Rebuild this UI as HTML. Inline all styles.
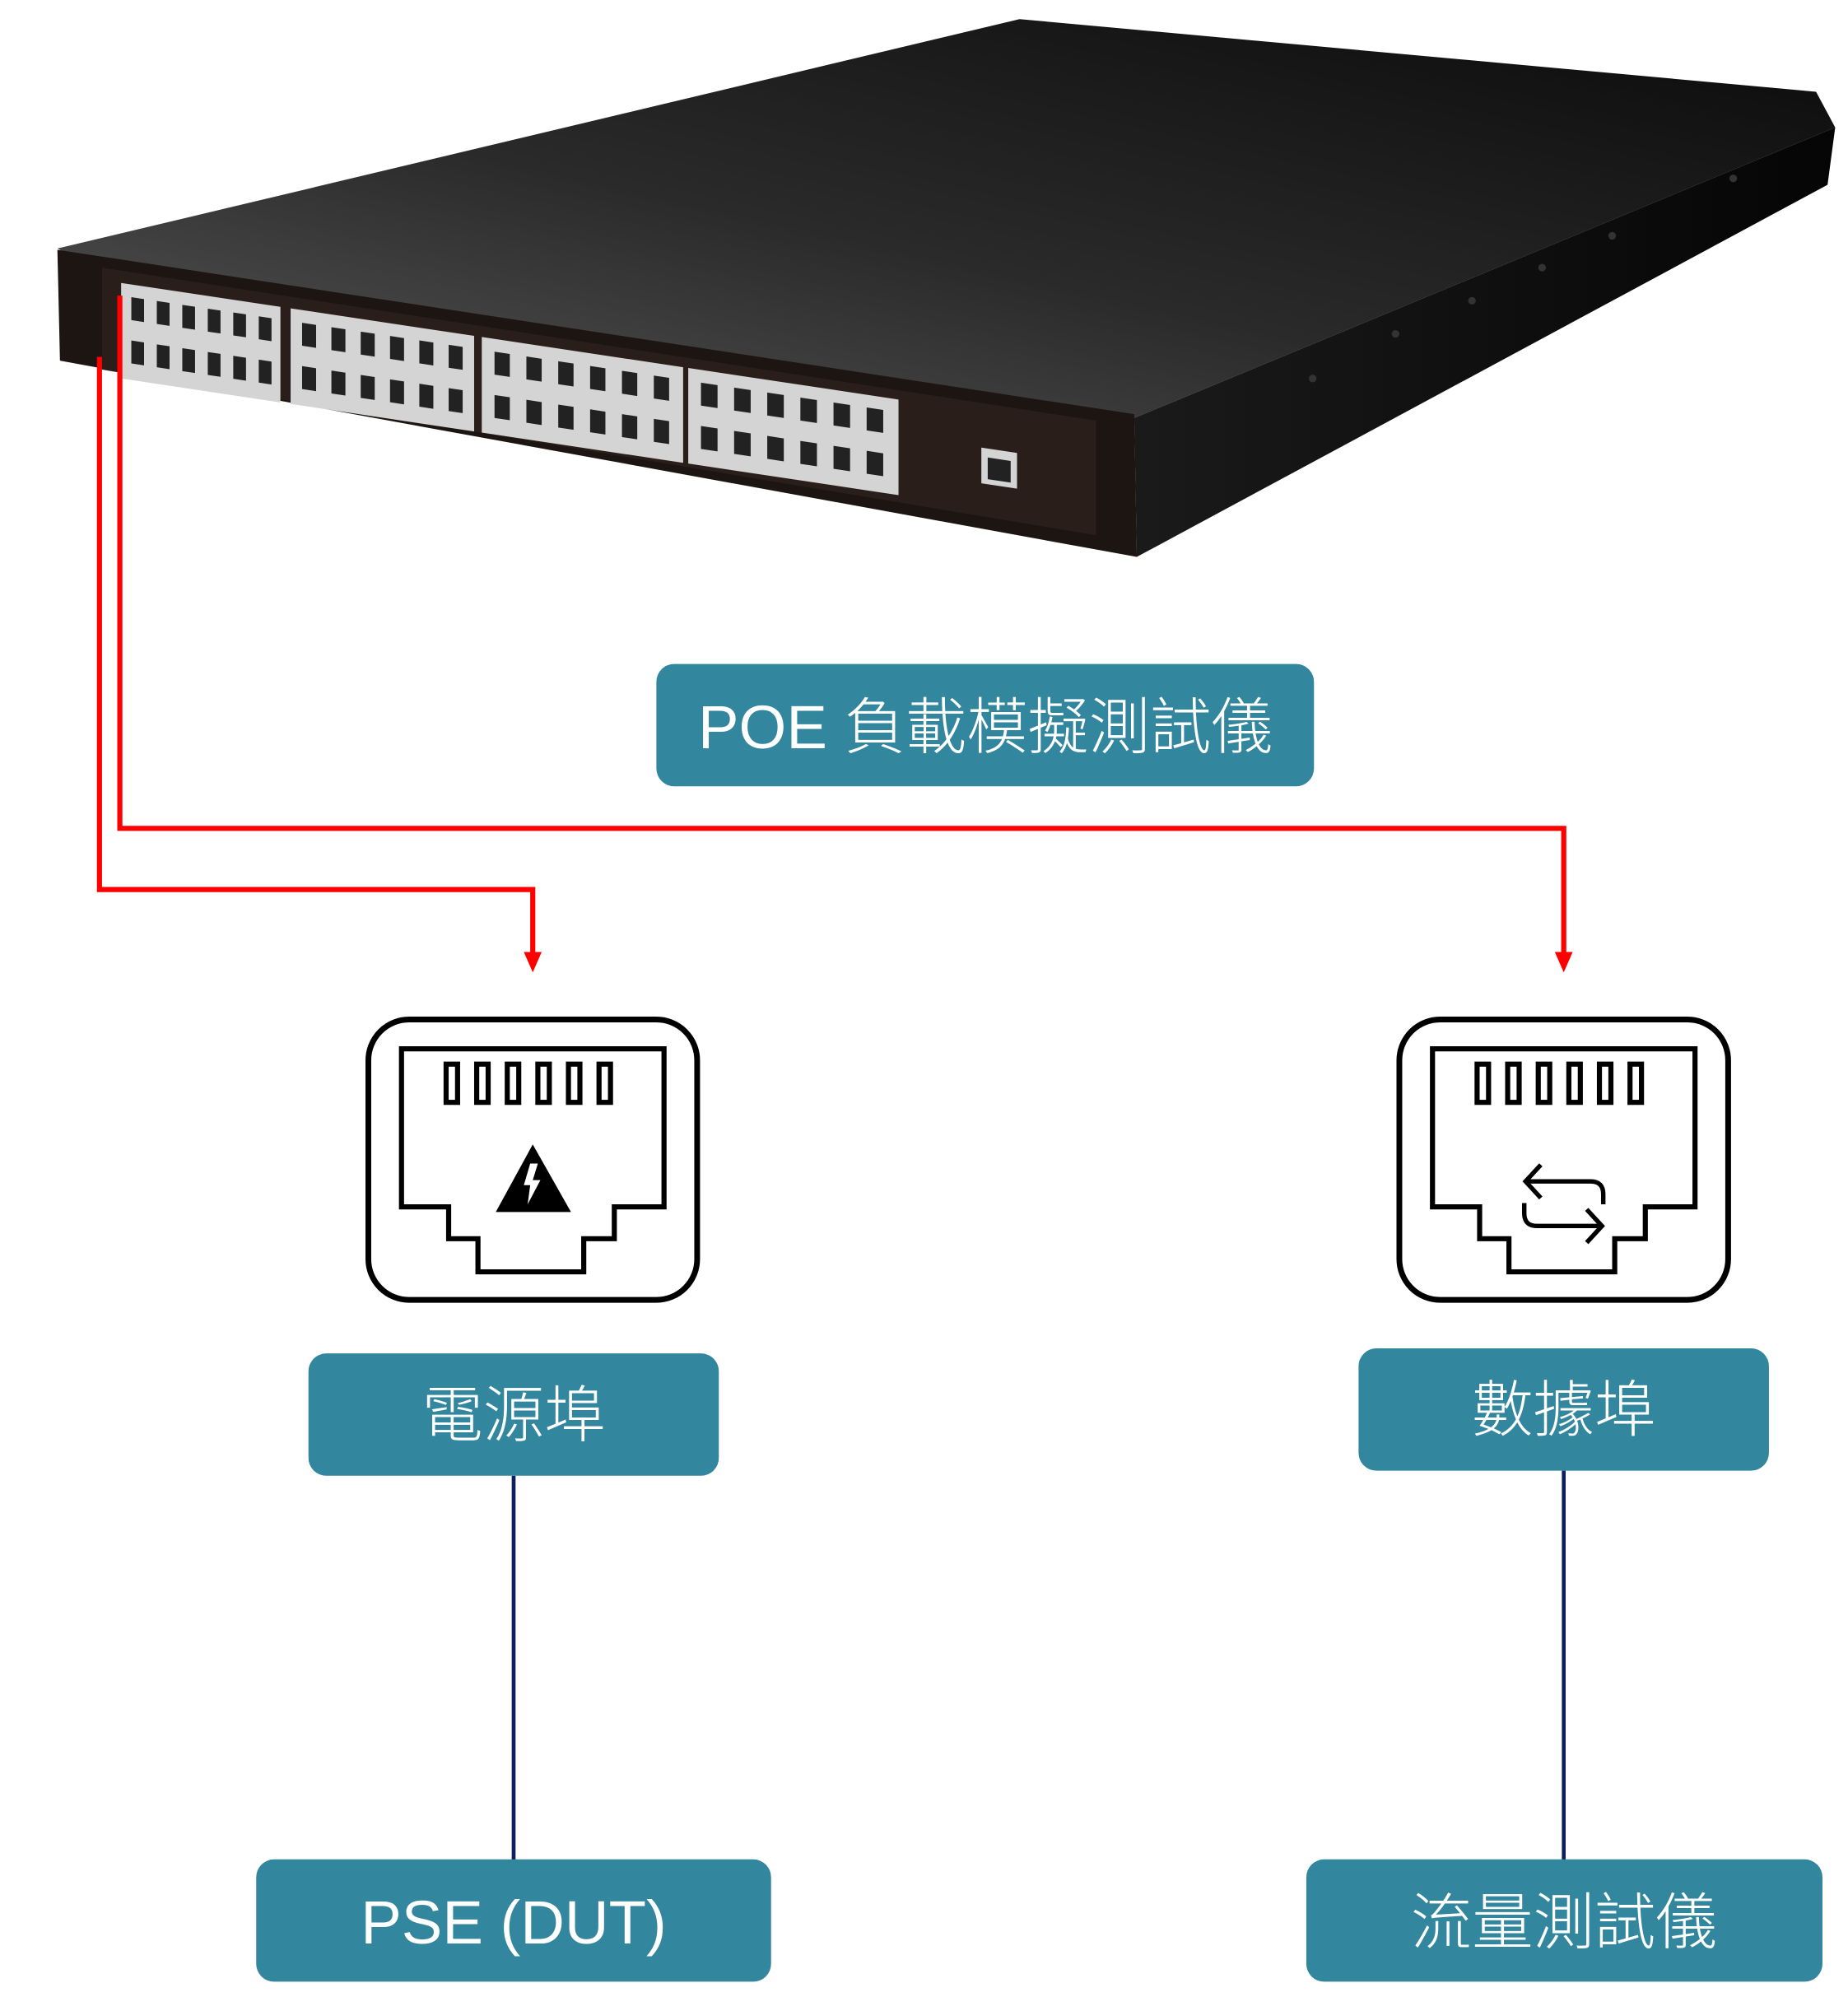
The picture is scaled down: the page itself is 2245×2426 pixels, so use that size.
<!DOCTYPE html>
<html><head><meta charset="utf-8"><style>
html,body{margin:0;padding:0;background:#fff;}
svg{display:block;}
text{font-family:"Liberation Sans","Noto Sans CJK TC",sans-serif;fill:#fff;font-weight:300;}
</style></head><body>
<svg width="2245" height="2426" viewBox="0 0 1450 1567" xmlns="http://www.w3.org/2000/svg">
<defs>
<linearGradient id="top" x1="0" y1="1" x2="1" y2="0">
<stop offset="0" stop-color="#5a5a5a"/><stop offset="0.45" stop-color="#2a2a2a"/><stop offset="1" stop-color="#0a0a0a"/>
</linearGradient>
<linearGradient id="side" x1="0" y1="0" x2="1" y2="0">
<stop offset="0" stop-color="#1a1a1a"/><stop offset="1" stop-color="#050505"/>
</linearGradient>
</defs>
<!-- switch -->
<polygon points="45,195 800,15 1425,72 1440,100 890,328 60,203" fill="url(#top)"/>
<polygon points="890,328 1440,100 1434,145 892,437" fill="url(#side)"/>
<polygon points="45,196 890,325 892,437 47,283" fill="#1c1512"/>
<polygon points="80,210 860,330 860,420 80,290" fill="#2a1e1a"/>
<g fill="#333">
<circle cx="1030" cy="297" r="3"/><circle cx="1095" cy="262" r="3"/><circle cx="1155" cy="236" r="3"/><circle cx="1210" cy="210" r="3"/><circle cx="1265" cy="185" r="3"/><circle cx="1360" cy="140" r="3"/>
</g>
<g transform="matrix(1,0.15,0,1,0,-14.25)">
<g fill="#d4d4d4">
<rect x="95" y="222" width="125" height="75"/>
<rect x="228" y="222" width="144" height="75"/>
<rect x="378" y="222" width="158" height="75"/>
<rect x="540" y="222" width="165" height="75"/>
<rect x="770" y="250" width="28" height="28"/>
</g>
<g fill="#222">
<rect x="103" y="232" width="10" height="18"/><rect x="123" y="232" width="10" height="18"/><rect x="143" y="232" width="10" height="18"/><rect x="163" y="232" width="10" height="18"/><rect x="183" y="232" width="10" height="18"/><rect x="203" y="232" width="10" height="18"/>
<rect x="103" y="266" width="10" height="18"/><rect x="123" y="266" width="10" height="18"/><rect x="143" y="266" width="10" height="18"/><rect x="163" y="266" width="10" height="18"/><rect x="183" y="266" width="10" height="18"/><rect x="203" y="266" width="10" height="18"/>
<rect x="237" y="232" width="11" height="18"/><rect x="260" y="232" width="11" height="18"/><rect x="283" y="232" width="11" height="18"/><rect x="306" y="232" width="11" height="18"/><rect x="329" y="232" width="11" height="18"/><rect x="352" y="232" width="11" height="18"/>
<rect x="237" y="266" width="11" height="18"/><rect x="260" y="266" width="11" height="18"/><rect x="283" y="266" width="11" height="18"/><rect x="306" y="266" width="11" height="18"/><rect x="329" y="266" width="11" height="18"/><rect x="352" y="266" width="11" height="18"/>
<rect x="388" y="232" width="12" height="18"/><rect x="413" y="232" width="12" height="18"/><rect x="438" y="232" width="12" height="18"/><rect x="463" y="232" width="12" height="18"/><rect x="488" y="232" width="12" height="18"/><rect x="513" y="232" width="12" height="18"/>
<rect x="388" y="266" width="12" height="18"/><rect x="413" y="266" width="12" height="18"/><rect x="438" y="266" width="12" height="18"/><rect x="463" y="266" width="12" height="18"/><rect x="488" y="266" width="12" height="18"/><rect x="513" y="266" width="12" height="18"/>
<rect x="550" y="232" width="13" height="18"/><rect x="576" y="232" width="13" height="18"/><rect x="602" y="232" width="13" height="18"/><rect x="628" y="232" width="13" height="18"/><rect x="654" y="232" width="13" height="18"/><rect x="680" y="232" width="13" height="18"/>
<rect x="550" y="266" width="13" height="18"/><rect x="576" y="266" width="13" height="18"/><rect x="602" y="266" width="13" height="18"/><rect x="628" y="266" width="13" height="18"/><rect x="654" y="266" width="13" height="18"/><rect x="680" y="266" width="13" height="18"/>
<rect x="775" y="257" width="18" height="17"/>
</g>
</g>
<!-- red connectors -->
<g stroke="#ff0000" stroke-width="4" fill="none">
<polyline points="78,280 78,698 418,698 418,750"/>
<polyline points="94,232 94,650 1227,650 1227,750"/>
</g>
<polygon points="411,747 425,747 418,763" fill="#ff0000"/>
<polygon points="1220,747 1234,747 1227,763" fill="#ff0000"/>
<!-- POE box -->
<rect x="515" y="521" width="516" height="96" rx="14" fill="#32869e"/>
<text x="773" y="587" font-size="48" text-anchor="middle">POE 負載模擬測試儀</text>
<!-- port icons -->
<g fill="none" stroke="#000" stroke-width="4.5">
<rect x="289" y="800" width="258" height="220" rx="32"/>
<path d="M315,823 H521 V947 H482 V972 H458 V998 H375 V972 H352 V947 H315 Z" stroke-width="4"/>
<g stroke-width="4">
<rect x="350" y="835" width="9" height="30"/><rect x="374" y="835" width="9" height="30"/><rect x="398" y="835" width="9" height="30"/><rect x="422" y="835" width="9" height="30"/><rect x="446" y="835" width="9" height="30"/><rect x="470" y="835" width="9" height="30"/>
</g>
</g>
<polygon points="418,898 389,951 448,951" fill="#000"/>
<polygon points="416,913 422,913 418,926 424,926 414,945 416,930 411,930" fill="#fff"/>
<g fill="none" stroke="#000" stroke-width="4.5">
<rect x="1098" y="800" width="258" height="220" rx="32"/>
<path d="M1124,823 H1330 V947 H1291 V972 H1267 V998 H1184 V972 H1161 V947 H1124 Z" stroke-width="4"/>
<g stroke-width="4">
<rect x="1159" y="835" width="9" height="30"/><rect x="1183" y="835" width="9" height="30"/><rect x="1207" y="835" width="9" height="30"/><rect x="1231" y="835" width="9" height="30"/><rect x="1255" y="835" width="9" height="30"/><rect x="1279" y="835" width="9" height="30"/>
</g>
<g stroke-width="3.5">
<path d="M1198,927 H1248 Q1258,927 1258,937 V945"/>
<path d="M1209,914 L1197,927 L1209,940"/>
<path d="M1256,962 H1206 Q1196,962 1196,952 V944"/>
<path d="M1245,949 L1257,962 L1245,975"/>
</g>
</g>
<!-- navy connectors -->
<line x1="403" y1="1158" x2="403" y2="1460" stroke="#0d1f5e" stroke-width="3"/>
<line x1="1227" y1="1154" x2="1227" y2="1460" stroke="#0d1f5e" stroke-width="3"/>
<!-- boxes -->
<rect x="242" y="1062" width="322" height="96" rx="14" fill="#32869e"/>
<text x="403" y="1127" font-size="48" text-anchor="middle">電源埠</text>
<rect x="1066" y="1058" width="322" height="96" rx="14" fill="#32869e"/>
<text x="1227" y="1123" font-size="48" text-anchor="middle">數據埠</text>
<rect x="201" y="1459" width="404" height="96" rx="14" fill="#32869e"/>
<text x="403" y="1525" font-size="48" text-anchor="middle">PSE (DUT)</text>
<rect x="1025" y="1459" width="405" height="96" rx="14" fill="#32869e"/>
<text x="1227" y="1525" font-size="48" text-anchor="middle">流量測試儀</text>
</svg>
</body></html>
